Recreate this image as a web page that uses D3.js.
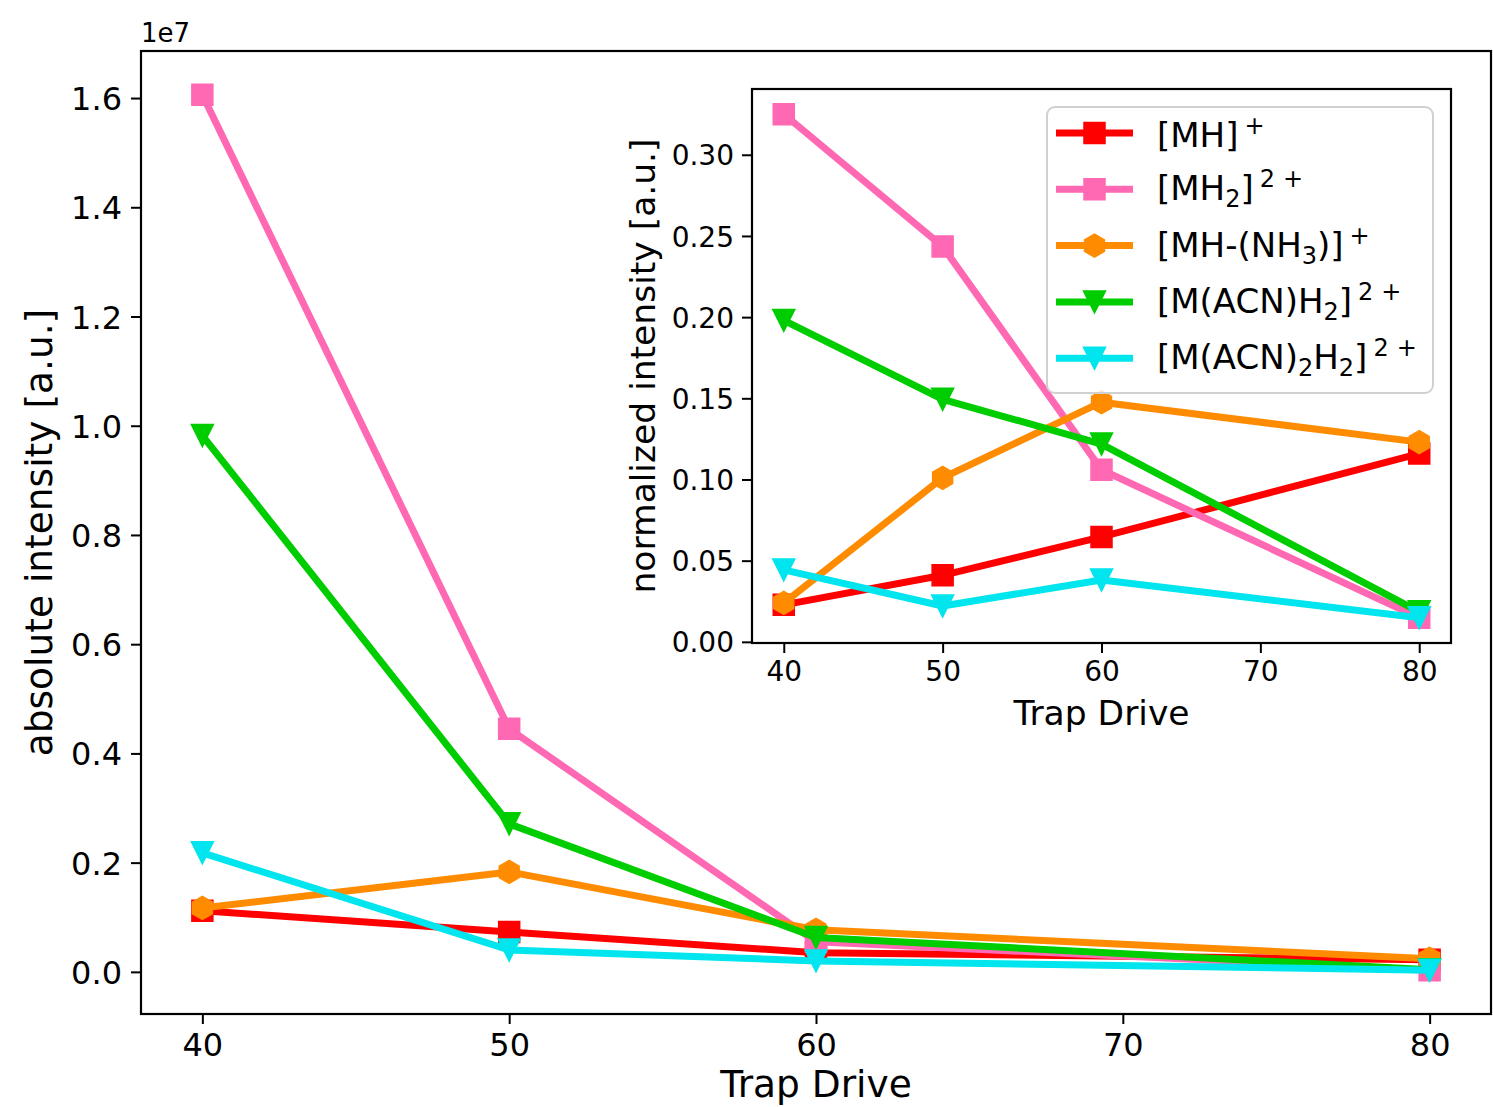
<!DOCTYPE html>
<html>
<head>
<meta charset="utf-8">
<title>Trap Drive intensities</title>
<script src="https://d3js.org/d3.v7.min.js"></script>
<style>
  body { margin: 0; background: #fff; }
  text { font-family: "DejaVu Sans", sans-serif; fill: #000; }
</style>
</head>
<body>
<div id="chart"></div>

<script>
var trapDrive = [40, 50, 60, 80];

// absolute intensity, in units of 1e7
var absMH      = [0.112, 0.073, 0.035, 0.022];
var absMH2     = [1.606, 0.445, 0.055, 0.003];
var absMHNH3   = [0.117, 0.183, 0.077, 0.024];
var absMACNH2  = [0.982, 0.271, 0.063, 0.004];
var absMACN2H2 = [0.218, 0.040, 0.020, 0.003];

// normalized intensity
var normMH      = [0.0228, 0.041, 0.0646, 0.116];
var normMH2     = [0.325, 0.2435, 0.106, 0.0148];
var normMHNH3   = [0.024, 0.101, 0.1476, 0.123];
var normMACNH2  = [0.198, 0.1494, 0.1218, 0.0185];
var normMACN2H2 = [0.0443, 0.0221, 0.0381, 0.0148];

var seriesColors  = ["#ff0000", "#ff69b4", "#ff8c00", "#00cd00", "#00e5ee"];
var seriesMarkers = ["square", "square", "hexagon", "triangle", "triangle"];
// label pieces: 0 = normal, 1 = superscript, -1 = subscript
var seriesLabels = [
  [["[MH]", 0], ["+", 1]],
  [["[MH", 0], ["2", -1], ["]", 0], ["2", 1], ["+", 1]],
  [["[MH-(NH", 0], ["3", -1], [")]", 0], ["+", 1]],
  [["[M(ACN)H", 0], ["2", -1], ["]", 0], ["2", 1], ["+", 1]],
  [["[M(ACN)", 0], ["2", -1], ["H", 0], ["2", -1], ["]", 0], ["2", 1], ["+", 1]]
];

var xTicks    = [40, 50, 60, 70, 80];
var absTicks  = [0, 0.2, 0.4, 0.6, 0.8, 1.0, 1.2, 1.4, 1.6];
var normTicks = [0, 0.05, 0.10, 0.15, 0.20, 0.25, 0.30];

var absSeries  = [absMH, absMH2, absMHNH3, absMACNH2, absMACN2H2];
var normSeries = [normMH, normMH2, normMHNH3, normMACNH2, normMACN2H2];

var W = 1493, H = 1107;
var svg = d3.select("#chart").append("svg")
  .attr("width", W).attr("height", H);

function markerPath(type) {
  if (type == "square") {
    var s = 10.5;
    return "M" + (-s) + "," + (-s) + "H" + s + "V" + s + "H" + (-s) + "Z";
  }
  if (type == "triangle") {
    var t = 11;
    return "M" + (-t) + "," + (-t) + "L" + t + "," + (-t) + "L0," + t + "Z";
  }
  // hexagon, pointy top
  var r = 11.5, pts = [];
  for (var k = 0; k < 6; k++) {
    var a = Math.PI / 2 + k * Math.PI / 3;
    pts.push([r * Math.cos(a), -r * Math.sin(a)]);
  }
  return "M" + pts.join("L") + "Z";
}

// pad the domain by 5% like matplotlib autoscale
function padded(vals) {
  var ext = d3.extent(vals), m = (ext[1] - ext[0]) * 0.05;
  return [ext[0] - m, ext[1] + m];
}

function drawPanel(p) {
  var g = svg.append("g").attr("transform", "translate(" + p.left + "," + p.top + ")");
  var w = p.width, h = p.height;

  g.append("rect").attr("width", w).attr("height", h).attr("fill", "#fff");

  var x = d3.scaleLinear().domain(padded(trapDrive)).range([0, w]);
  var y = d3.scaleLinear().domain(padded(d3.merge(p.series))).range([h, 0]);

  var xAxis = g.append("g").attr("transform", "translate(0," + h + ")")
    .call(d3.axisBottom(x).tickValues(xTicks).tickSize(10).tickPadding(p.xPad)
      .tickFormat(d3.format("d")));
  var yAxis = g.append("g")
    .call(d3.axisLeft(y).tickValues(p.yTicks).tickSize(10).tickPadding(p.yPad)
      .tickFormat(d3.format(p.yFmt)));
  [xAxis, yAxis].forEach(function(a) {
    a.select(".domain").remove();
    a.selectAll(".tick line").attr("stroke", "#000").attr("stroke-width", 2);
    a.selectAll(".tick text").attr("fill", "#000")
      .style("font-family", "DejaVu Sans").style("font-size", p.tickFont + "px");
  });
  yAxis.selectAll(".tick text").attr("dy", "0.36em");

  var line = d3.line()
    .x(function(d, i) { return x(trapDrive[i]); })
    .y(function(d) { return y(d); });

  p.series.forEach(function(vals, si) {
    var sg = g.append("g");
    sg.append("path").attr("d", line(vals))
      .attr("fill", "none").attr("stroke", seriesColors[si])
      .attr("stroke-width", 7).attr("stroke-linejoin", "round");
    sg.selectAll("path.mk").data(vals).enter().append("path")
      .attr("class", "mk")
      .attr("d", markerPath(seriesMarkers[si]))
      .attr("transform", function(d, i) { return "translate(" + x(trapDrive[i]) + "," + y(d) + ")"; })
      .attr("fill", seriesColors[si]).attr("stroke", seriesColors[si]).attr("stroke-width", 1.5);
  });

  g.append("rect").attr("width", w).attr("height", h)
    .attr("fill", "none").attr("stroke", "#000").attr("stroke-width", 2.2);

  g.append("text").attr("x", w / 2).attr("y", h + p.xLabelOff)
    .attr("text-anchor", "middle").style("font-size", p.labelFont + "px")
    .text("Trap Drive");
  g.append("text")
    .attr("transform", "translate(" + p.yLabelOff + "," + (h / 2) + ") rotate(-90)")
    .attr("text-anchor", "middle").style("font-size", p.labelFont + "px")
    .text(p.yLabel);
  return g;
}

// main axes
var main = drawPanel({
  left: 141, top: 51, width: 1350, height: 963,
  series: absSeries, yTicks: absTicks, yFmt: ".1f",
  xPad: 9, yPad: 9, tickFont: 32, labelFont: 37.5,
  xLabelOff: 83, yLabelOff: -89,
  yLabel: "absolute intensity [a.u.]"
});
main.append("text").attr("x", 0).attr("y", -9)
  .style("font-size", "26px").text("1e7");

// inset axes
var inset = drawPanel({
  left: 752, top: 89, width: 699, height: 554,
  series: normSeries, yTicks: normTicks, yFmt: ".2f",
  xPad: 8, yPad: 8, tickFont: 28, labelFont: 34.5,
  xLabelOff: 82, yLabelOff: -97,
  yLabel: "normalized intensity [a.u.]"
});

// legend
var leg = svg.append("g").attr("transform", "translate(1047,107)");
leg.append("rect").attr("width", 386).attr("height", 286)
  .attr("rx", 8).attr("ry", 8)
  .attr("fill", "#fff").attr("fill-opacity", 0.8)
  .attr("stroke", "#d0d0d0").attr("stroke-width", 2);

var legFont = 34;
seriesLabels.forEach(function(parts, si) {
  var cy = 26 + si * 56.3;
  var row = leg.append("g");
  row.append("line").attr("x1", 9).attr("x2", 86).attr("y1", cy).attr("y2", cy)
    .attr("stroke", seriesColors[si]).attr("stroke-width", 7);
  row.append("path").attr("d", markerPath(seriesMarkers[si]))
    .attr("transform", "translate(47.5," + cy + ")")
    .attr("fill", seriesColors[si]).attr("stroke", seriesColors[si]).attr("stroke-width", 1.5);

  var t = row.append("text").attr("x", 110).attr("y", 0).style("font-size", legFont + "px");
  var shift = 0, prev = 0;
  parts.forEach(function(pt) {
    var want = pt[1] == 1 ? -13 : (pt[1] == -1 ? 7 : 0);
    var ts = t.append("tspan").attr("dy", want - shift)
      .style("font-size", (pt[1] == 0 ? legFont : Math.round(legFont * 0.7)) + "px")
      .text(pt[0]);
    if (pt[1] == 1 && prev == 1) ts.attr("dx", 8);
    else if (pt[1] == 1) ts.attr("dx", 6);
    shift = want; prev = pt[1];
  });
  // centre the text box on the handle like matplotlib does
  var bb = t.node().getBBox();
  t.attr("y", cy - (bb.y + bb.height / 2));
});
</script>
</body>
</html>
